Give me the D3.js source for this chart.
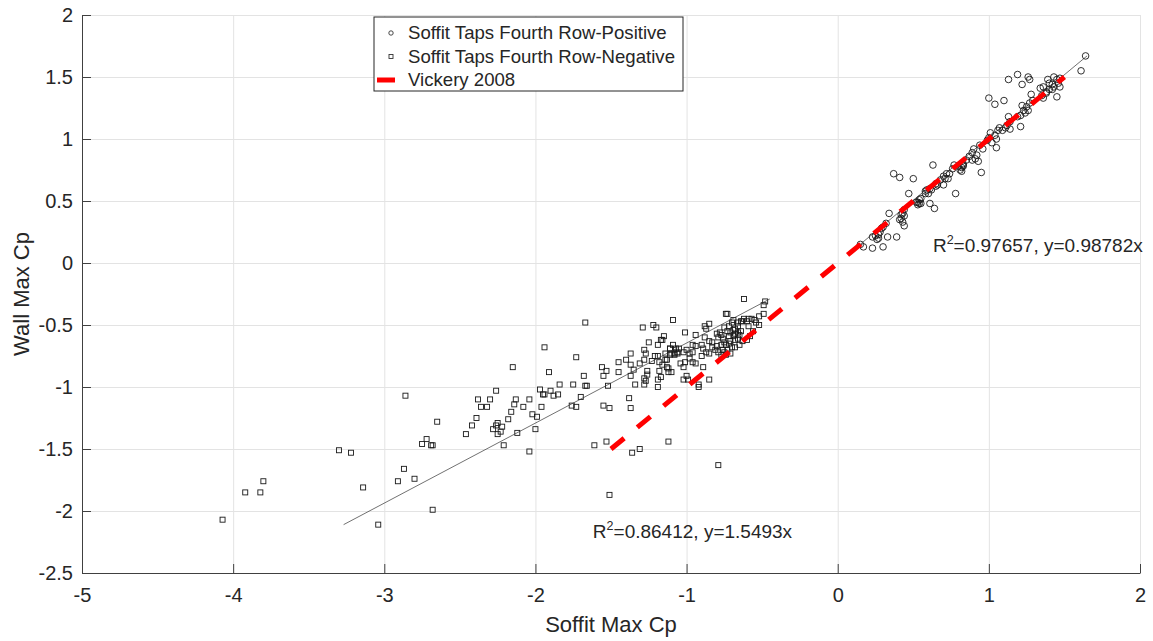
<!doctype html>
<html>
<head>
<meta charset="utf-8">
<style>
    body { margin: 0; background: #fff; }
    svg { display: block; font-family: 'Liberation Sans', Arial, sans-serif; }
    .axis text { font-size: 20px; fill: #262626; }
    .axis path, .axis line { stroke: #404040; }
    .grid line { stroke: #e3e3e3; }
    .grid path { stroke-width: 0; }
    text.label { font-size: 22px; fill: #262626; }
    text.note { font-size: 19px; fill: #262626; }
    text.legend { font-size: 18.6px; fill: #262626; }
</style>
<script src="https://d3js.org/d3.v7.min.js"></script>
</head>
<body>
<svg width="1153" height="641"></svg>
<script>
// Soffit Taps Fourth Row - Positive (soffit Cp, wall Cp)
const posX = [1.61,1.19,1.13,1.26,1.27,1.22,1.34,1.45,1.36,1.39,1.42,1.43,1.45,1.46,1.47,1.40,1.38,1.43,1.47,
    1.00,1.04,1.10,1.28,1.29,1.27,1.25,1.23,1.22,1.26,1.24,1.21,1.19,1.21,1.13,1.14,1.12,1.14,1.11,1.09,1.07,1.06,
    1.01,1.04,1.00,0.99,1.05,1.02,1.05,0.96,0.94,0.90,0.89,0.92,0.87,0.89,0.85,0.93,0.83,0.80,0.76,0.82,0.77,
    0.63,0.37,0.41,0.50,0.47,0.78,0.95,0.91,0.82,0.70,0.72,0.74,0.71,0.73,0.68,0.66,0.65,0.62,0.60,0.58,0.55,
    0.54,0.52,0.61,0.64,0.83,0.44,0.42,0.41,0.43,0.44,0.34,0.39,0.33,0.27,0.26,0.23,0.30,0.23,0.17,0.30,0.32,
    0.29,0.54,0.53,0.55,0.53,0.43,0.42,0.44,0.28,0.25,0.27,0.15,0.65,0.70,0.61,0.59,0.58,1.64,1.36,1.38,1.40,
    1.42,1.35,0.81,0.83]
const posY = [1.55,1.52,1.48,1.50,1.48,1.44,1.41,1.34,1.33,1.48,1.44,1.42,1.48,1.45,1.49,1.40,1.37,1.50,1.42,
    1.33,1.28,1.31,1.36,1.31,1.29,1.26,1.23,1.27,1.23,1.21,1.19,1.18,1.10,1.18,1.14,1.11,1.08,1.09,1.07,1.09,1.07,
    1.05,1.03,1.01,0.99,1.00,0.97,0.93,0.92,0.95,0.92,0.89,0.87,0.86,0.83,0.83,0.82,0.80,0.78,0.76,0.77,0.79,
    0.79,0.72,0.69,0.68,0.56,0.56,0.73,0.84,0.74,0.70,0.72,0.72,0.68,0.68,0.67,0.63,0.62,0.59,0.56,0.56,0.52,
    0.48,0.49,0.48,0.44,0.79,0.43,0.39,0.35,0.33,0.30,0.40,0.21,0.21,0.23,0.19,0.21,0.13,0.12,0.13,0.29,0.32,
    0.28,0.51,0.49,0.48,0.47,0.40,0.36,0.38,0.25,0.22,0.20,0.15,0.64,0.63,0.60,0.59,0.58,1.67,1.42,1.38,1.45,
    1.40,1.35,0.75,0.78]

// Soffit Taps Fourth Row - Negative
const negX = [-4.07,-3.92,-3.82,-3.80,-3.30,-3.22,-3.14,-3.04,-2.91,-2.87,-2.80,-2.75,-2.72,-2.69,-2.68,-2.68,
    -2.86,-2.65,-2.46,-2.42,-2.39,-2.38,-2.36,-2.32,-2.30,-2.26,-2.28,-2.26,-2.25,-2.23,-2.25,-2.22,-2.21,-2.18,
    -2.16,-2.14,-2.13,-2.15,-2.12,-2.08,-2.04,-2.04,-2.02,-2.00,-1.99,-1.96,-1.97,-1.95,-1.94,-1.91,-1.90,-1.88,
    -1.85,-1.84,-1.76,-1.73,-1.75,-1.70,-1.68,-1.67,-1.66,-1.61,-1.67,-1.94,-1.73,-1.55,-1.56,-1.53,-1.52,-1.55,
    -1.51,-1.45,-1.45,-1.40,-1.37,-1.37,-1.35,-1.37,-1.38,-1.37,-1.34,-1.31,-1.29,-1.22,-1.20,-1.28,-1.27,-1.28,
    -1.27,-1.28,-1.26,-1.26,-1.25,-1.19,-1.17,-1.16,-1.15,-1.21,-1.19,-1.23,-1.18,-1.18,-1.19,-1.14,-1.13,-1.11,
    -1.10,-1.12,-1.10,-1.09,-1.08,-1.06,-1.07,-0.62,-0.48,-0.49,-0.49,-0.74,-0.73,-0.85,-0.87,-0.88,-1.01,-0.94,
    -0.88,-0.90,-0.85,-0.83,-0.80,-0.78,-0.77,-0.79,-0.75,-0.72,-0.70,-0.69,-0.73,-0.71,-0.69,-0.68,-0.66,-0.66,
    -0.64,-0.63,-0.62,-0.60,-0.59,-0.57,-0.55,-0.54,-0.52,-0.52,-0.72,-0.69,-0.68,-0.66,-0.65,-0.64,-0.66,-0.68,
    -0.71,-0.76,-0.75,-0.77,-0.80,-0.83,-0.81,-0.74,-0.72,-0.70,-0.73,-0.75,-0.76,-0.79,-0.77,-0.74,-0.71,-0.68,
    -0.65,-0.63,-0.60,-0.58,-0.56,-0.59,-0.90,-0.89,-0.87,-0.85,-0.96,-0.94,-0.96,-0.98,-1.00,-1.02,-1.05,-1.06,
    -1.08,-1.11,-1.14,-1.11,-1.09,-0.98,-0.96,-1.01,-1.04,-1.02,-1.13,-1.16,-1.12,-1.17,-0.94,-0.89,-1.00,-1.02,
    -0.99,-0.92,-0.92,-0.85,-0.79,-1.53,-1.36,-1.31,-1.12,-1.19,-1.28,-1.51]
const negY = [-2.07,-1.85,-1.85,-1.76,-1.51,-1.53,-1.81,-2.11,-1.76,-1.66,-1.74,-1.46,-1.42,-1.47,-1.47,-1.99,
    -1.07,-1.28,-1.38,-1.31,-1.25,-1.10,-1.16,-1.16,-1.10,-1.03,-1.34,-1.31,-1.29,-1.36,-1.38,-1.32,-1.47,-1.26,
    -1.20,-1.14,-1.10,-0.84,-1.37,-1.16,-1.52,-1.10,-1.22,-1.34,-1.24,-1.16,-1.02,-1.06,-1.06,-0.88,-1.03,-1.07,
    -1.06,-0.98,-1.15,-1.16,-0.98,-1.08,-0.91,-0.99,-0.99,-1.47,-0.48,-0.68,-0.76,-0.91,-0.84,-0.87,-0.99,-1.15,
    -1.17,-0.80,-0.88,-0.78,-0.73,-0.82,-0.86,-0.91,-1.09,-1.17,-0.98,-0.81,-0.52,-0.50,-0.52,-0.93,-0.95,-0.70,
    -0.73,-0.78,-0.87,-0.90,-0.64,-0.66,-0.62,-0.62,-0.59,-0.75,-0.75,-0.79,-0.80,-0.87,-1.00,-0.78,-0.84,-0.69,
    -0.73,-0.88,-0.88,-0.46,-0.73,-0.72,-0.69,-0.29,-0.31,-0.34,-0.41,-0.41,-0.41,-0.49,-0.53,-0.51,-0.56,-0.58,
    -0.60,-0.66,-0.63,-0.64,-0.57,-0.56,-0.58,-0.60,-0.52,-0.51,-0.48,-0.46,-0.55,-0.56,-0.54,-0.53,-0.51,-0.48,
    -0.47,-0.47,-0.45,-0.47,-0.45,-0.45,-0.46,-0.48,-0.50,-0.43,-0.59,-0.59,-0.57,-0.56,-0.58,-0.55,-0.61,-0.62,
    -0.63,-0.61,-0.64,-0.66,-0.67,-0.68,-0.70,-0.66,-0.65,-0.68,-0.70,-0.72,-0.70,-0.72,-0.74,-0.74,-0.73,-0.68,
    -0.66,-0.63,-0.62,-0.59,-0.55,-0.51,-0.75,-0.69,-0.72,-0.73,-0.66,-0.67,-0.72,-0.73,-0.70,-0.72,-0.69,-0.73,
    -0.74,-0.74,-0.73,-0.69,-0.66,-0.77,-0.80,-0.80,-0.81,-0.84,-0.78,-0.82,-0.85,-0.92,-0.81,-0.84,-0.91,-0.94,
    -0.94,-0.98,-1.00,-0.94,-1.63,-1.44,-1.53,-1.50,-1.44,-0.94,-0.98,-1.87]

// fits (x = k * y) and reference line
const posSlope = 0.98782, posR2 = 0.97657
const negSlope = 1.5493, negR2 = 0.86412
const vickX = [-1.5, 1.5]
const vickY = [-1.5, 1.5]

const xTicks = [-5, -4, -3, -2, -1, 0, 1, 2]
const yTicks = [-2.5, -2, -1.5, -1, -0.5, 0, 0.5, 1, 1.5, 2]
const legendLabels = ['Soffit Taps Fourth Row-Positive', 'Soffit Taps Fourth Row-Negative', 'Vickery 2008']

const svg = d3.select('svg')
const margin = { top: 15, right: 13, bottom: 68, left: 82 }
const width = 1153 - margin.left - margin.right
const height = 641 - margin.top - margin.bottom

const chart = svg.append('g')
    .attr('transform', `translate(${margin.left}, ${margin.top})`)

const xScale = d3.scaleLinear().domain([-5, 2]).range([0, width])
const yScale = d3.scaleLinear().domain([-2.5, 2]).range([height, 0])

// grid
chart.append('g')
    .attr('class', 'grid')
    .attr('transform', `translate(0, ${height})`)
    .call(d3.axisBottom(xScale).tickValues(xTicks).tickSize(-height).tickFormat(''))
chart.append('g')
    .attr('class', 'grid')
    .call(d3.axisLeft(yScale).tickValues(yTicks).tickSize(-width).tickFormat(''))

// scatter
chart.append('g').selectAll('circle')
    .data(posX.map((x, i) => [x, posY[i]]))
    .enter().append('circle')
    .attr('cx', d => xScale(d[0]))
    .attr('cy', d => yScale(d[1]))
    .attr('r', 3.3)
    .attr('fill', 'none')
    .attr('stroke', '#1a1a1a')
    .attr('stroke-width', 0.9)

const sq = 5
chart.append('g').selectAll('rect')
    .data(negX.map((x, i) => [x, negY[i]]))
    .enter().append('rect')
    .attr('x', d => xScale(d[0]) - sq / 2)
    .attr('y', d => yScale(d[1]) - sq / 2)
    .attr('width', sq)
    .attr('height', sq)
    .attr('fill', 'none')
    .attr('stroke', '#1a1a1a')
    .attr('stroke-width', 0.9)

// fit lines, drawn over the y range of each set
const fitLine = (ys, k) => {
    const [y0, y1] = d3.extent(ys)
    chart.append('line')
        .attr('x1', xScale(k * y0)).attr('y1', yScale(y0))
        .attr('x2', xScale(k * y1)).attr('y2', yScale(y1))
        .attr('stroke', '#333')
        .attr('stroke-width', 0.7)
}
fitLine(posY, posSlope)
fitLine(negY, negSlope)

// Vickery 2008
chart.append('path')
    .datum(vickX.map((x, i) => [x, vickY[i]]))
    .attr('d', d3.line().x(d => xScale(d[0])).y(d => yScale(d[1])))
    .attr('fill', 'none')
    .attr('stroke', '#ff0000')
    .attr('stroke-width', 5)
    .attr('stroke-dasharray', '17 17')

// axes
const plain = d => String(d)
chart.append('g')
    .attr('class', 'axis')
    .attr('transform', `translate(0, ${height})`)
    .call(d3.axisBottom(xScale).tickValues(xTicks).tickSizeInner(-9).tickSizeOuter(0).tickPadding(15)
        .tickFormat(plain))
chart.append('g')
    .attr('class', 'axis')
    .call(d3.axisLeft(yScale).tickValues(yTicks).tickSizeInner(-9).tickSizeOuter(0).tickPadding(9)
        .tickFormat(plain))

// annotations
const note = (x, y, r2, k) => {
    const t = chart.append('text')
        .attr('class', 'note')
        .attr('x', xScale(x))
        .attr('y', yScale(y))
    t.append('tspan').text('R')
    t.append('tspan').attr('dy', -8).attr('font-size', 12.5).text('2')
    t.append('tspan').attr('dy', 8).text(`=${r2}, y=${k}x`)
}
note(0.63, 0.09, posR2, posSlope)
note(-1.62, -2.22, negR2, negSlope)

// axis labels
svg.append('text')
    .attr('class', 'label')
    .attr('x', margin.left + width / 2)
    .attr('y', 632)
    .attr('text-anchor', 'middle')
    .text('Soffit Max Cp')

svg.append('text')
    .attr('class', 'label')
    .attr('transform', `translate(29, ${margin.top + height / 2}) rotate(-90)`)
    .attr('text-anchor', 'middle')
    .text('Wall Max Cp')

// legend
const legend = svg.append('g').attr('transform', 'translate(374, 17)')
legend.append('rect')
    .attr('width', 309).attr('height', 74)
    .attr('fill', '#fff')
    .attr('stroke', '#262626')
    .attr('stroke-width', 1)

legendLabels.forEach((lab, i) => {
    const cy = 16 + i * 23.5
    legend.append('text')
        .attr('class', 'legend')
        .attr('x', 34)
        .attr('y', cy + 6)
        .text(lab)
    if (i === 0) {
        legend.append('circle').attr('cx', 17).attr('cy', cy).attr('r', 2.2)
            .attr('fill', 'none').attr('stroke', '#333').attr('stroke-width', 0.9)
    } else if (i === 1) {
        legend.append('rect').attr('x', 15).attr('y', cy - 2).attr('width', 4).attr('height', 4)
            .attr('fill', 'none').attr('stroke', '#333').attr('stroke-width', 0.9)
    } else {
        legend.append('line').attr('x1', 3).attr('x2', 21).attr('y1', cy).attr('y2', cy)
            .attr('stroke', '#ff0000').attr('stroke-width', 5)
    }
})
</script>
</body>
</html>
